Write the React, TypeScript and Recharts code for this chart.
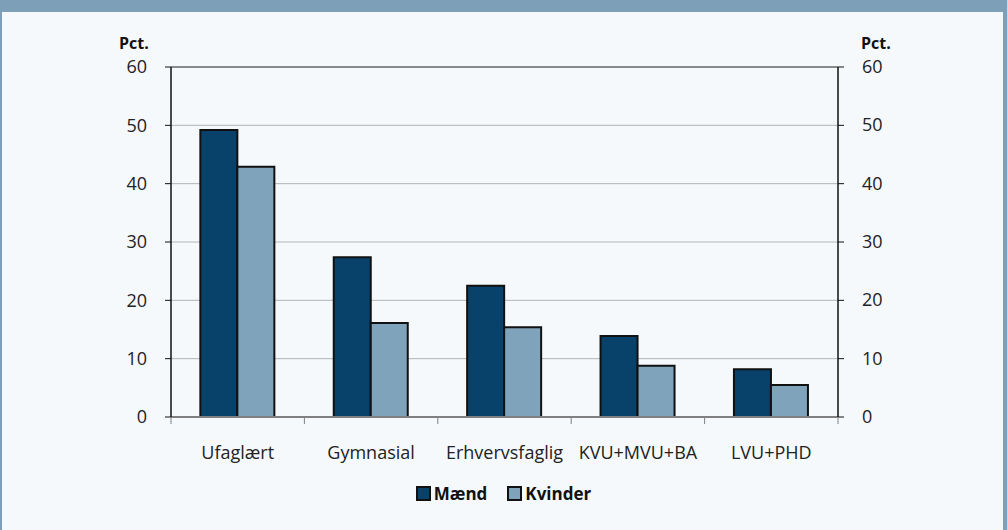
import { Bar, BarChart, CartesianGrid, Legend, ReferenceLine, XAxis, YAxis } from "recharts";

const categories = ["Ufaglært", "Gymnasial", "Erhvervsfaglig", "KVU+MVU+BA", "LVU+PHD"];
const maend = [49.2, 27.4, 22.5, 13.9, 8.2];
const kvinder = [42.9, 16.1, 15.4, 8.8, 5.5];
const yTicks = [0, 10, 20, 30, 40, 50, 60];

const data = categories.map((name, i) => ({ name, maend: maend[i], kvinder: kvinder[i] }));

const FONT = "'Open Sans', sans-serif";
const DARK = "#08426b";
const LIGHT = "#7fa3ba";
const FRAME = "#7da0b8";

function CategoryTick(props: any) {
  const { x, y, payload, index, visibleTicksCount } = props;
  const half = payload.offset ?? 0;
  const top = y - 28;
  return (
    <g>
      <line x1={x - half} x2={x - half} y1={top} y2={top + 7} stroke="#808080" />
      {index === visibleTicksCount - 1 && (
        <line x1={x + half} x2={x + half} y1={top} y2={top + 7} stroke="#808080" />
      )}
      <text x={x} y={y} dy={14} textAnchor="middle" fontSize={18} fill="#222" fontFamily={FONT}>
        {payload.value}
      </text>
    </g>
  );
}

function RightTick(props: any) {
  const { x, y, payload } = props;
  return (
    <text x={x} y={y} dx={14} dy={6} textAnchor="start" fontSize={18} fill="#222" fontFamily={FONT}>
      {payload.value}
    </text>
  );
}

function LegendBox() {
  const items = [
    { label: "Mænd", color: DARK },
    { label: "Kvinder", color: LIGHT },
  ];
  return (
    <div style={{ display: "flex", justifyContent: "center", gap: 20, fontFamily: FONT }}>
      {items.map((it) => (
        <span key={it.label} style={{ display: "flex", alignItems: "center", fontWeight: 700, fontSize: 17, color: "#111" }}>
          <span
            style={{
              width: 11,
              height: 11,
              background: it.color,
              border: "2px solid #111",
              marginRight: 3,
              display: "inline-block",
            }}
          />
          {it.label}
        </span>
      ))}
    </div>
  );
}

const yTickStyle = { fill: "#222", fontSize: 18, fontFamily: FONT };

export default function App() {
  return (
    <div
      style={{
        position: "absolute",
        left: 0,
        top: 0,
        width: 1007,
        height: 530,
        background: "#f5f9fc",
        boxSizing: "border-box",
        borderTop: `12px solid ${FRAME}`,
        borderLeft: `2px solid ${FRAME}`,
        borderRight: `4px solid ${FRAME}`,
        fontFamily: FONT,
      }}
    >
      <div style={{ position: "absolute", left: -2, top: -12 }}>
        <BarChart
          width={1007}
          height={530}
          data={data}
          margin={{ top: 67, right: 109, bottom: 83, left: 111 }}
          barCategoryGap="22%"
          barGap={0}
        >
          <CartesianGrid yAxisId="left" vertical={false} stroke="#b4b4b4" />
          <XAxis
            dataKey="name"
            height={30}
            axisLine={{ stroke: "#808080", strokeWidth: 2 }}
            tickLine={false}
            tickSize={6}
            tickMargin={22}
            interval={0}
            tick={<CategoryTick />}
          />
          <YAxis
            yAxisId="left"
            domain={[0, 60]}
            ticks={yTicks}
            width={60}
            axisLine={{ stroke: "#111", strokeWidth: 1.5 }}
            tickLine={{ stroke: "#111" }}
            tickSize={6}
            tickMargin={18}
            tick={yTickStyle}
          />
          <YAxis
            yAxisId="right"
            orientation="right"
            domain={[0, 60]}
            ticks={yTicks}
            width={60}
            axisLine={{ stroke: "#111", strokeWidth: 1.5 }}
            tickLine={{ stroke: "#111" }}
            tickSize={6}
            tickMargin={4}
            tick={<RightTick />}
          />
          <ReferenceLine yAxisId="left" y={60} stroke="#8a8a8a" strokeWidth={2} />
          <Bar yAxisId="left" dataKey="maend" name="Mænd" fill={DARK} stroke="#111" strokeWidth={2} isAnimationActive={false} />
          <Bar yAxisId="right" dataKey="kvinder" name="Kvinder" fill={LIGHT} stroke="#111" strokeWidth={2} isAnimationActive={false} />
          <Legend
            verticalAlign="middle"
            align="center"
            content={<LegendBox />}
            wrapperStyle={{ top: 482, left: 0, width: 1007 }}
          />
        </BarChart>
      </div>
      <div style={{ position: "absolute", left: 117, top: 20, fontWeight: 700, fontSize: 16, color: "#111" }}>Pct.</div>
      <div style={{ position: "absolute", left: 859, top: 20, fontWeight: 700, fontSize: 16, color: "#111" }}>Pct.</div>
    </div>
  );
}
